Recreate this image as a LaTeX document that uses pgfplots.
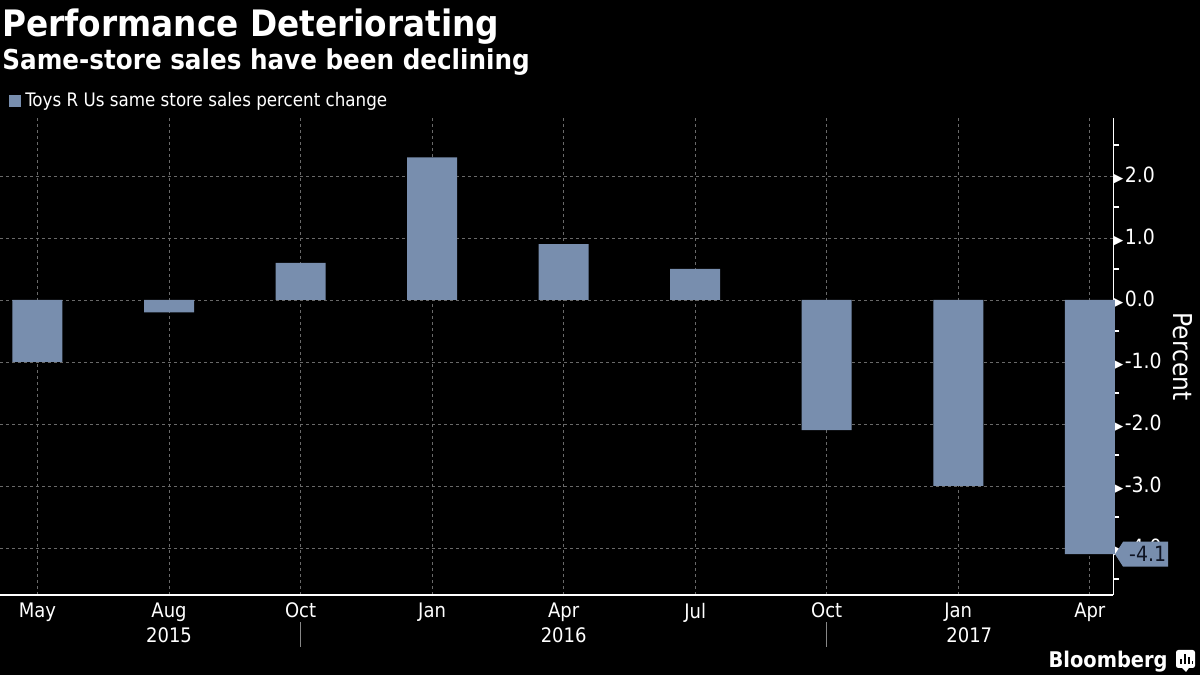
\documentclass[border=0pt]{standalone}
\usepackage{pgfplots}
\pgfplotsset{compat=1.18}
\usepackage{fontspec}
\setmainfont{DejaVu Sans Condensed}
\newfontfamily\dvs{DejaVu Sans}
\definecolor{barc}{RGB}{120,142,174}
\definecolor{gridc}{RGB}{105,105,105}
\definecolor{calltext}{RGB}{15,20,35}
\newcommand{\tri}{{\dvs\fontsize{6.5}{6.5}\selectfont ▶}\hspace{0.8pt}}
\begin{document}
\begin{tikzpicture}
\fill[black] (0,0) rectangle (600pt,337.5pt);
\node[anchor=base west, text=white, inner sep=0pt, font=\bfseries\fontsize{18.2}{21}\selectfont] at (1pt,319pt) {Performance Deteriorating};
\node[anchor=base west, text=white, inner sep=0pt, font=\bfseries\fontsize{13.7}{16}\selectfont] at (1pt,302.5pt) {Same-store sales have been declining};
\begin{axis}[
  at={(0pt,40pt)}, anchor=south west,
  scale only axis, width=556.75pt, height=238.5pt,
  xmin=-0.285, xmax=8.18, ymin=-4.758, ymax=2.935,
  axis x line*=bottom, axis y line*=right,
  axis line style={white, line width=0.8pt},
  clip=false,
  xtick={0,...,8},
  xticklabels={May, Aug\\2015, Oct, Jan, Apr\\2016, Jul, Oct, Jan\\\hspace*{11pt}2017, Apr},
  xticklabel style={align=center, text=white, font=\fontsize{10}{12.5}\selectfont, anchor=north, yshift=-0.5pt},
  ytick={-4,-3,-2,-1,0,1,2},
  yticklabels={\tri-4.0,\tri-3.0,\tri-2.0,\tri-1.0,\tri0.0,\tri1.0,\tri2.0},
  minor ytick={-4.5,-3.5,-2.5,-1.5,-0.5,0.5,1.5,2.5},
  yticklabel style={text=white, font=\fontsize{10.5}{12}\selectfont, anchor=west, inner xsep=0pt, xshift=-0.3pt},
  tick align=outside,
  major tick length=0pt, minor tick length=3pt,
  minor tick style={white, line width=0.6pt},
  grid=major,
  major grid style={gridc, dash pattern=on 1.5pt off 1.5pt, line width=0.4pt},
  ylabel={Percent},
  ylabel style={rotate=180, at={(rel axis cs:1,0.5)}, anchor=center, yshift=34.5pt, text=white, font=\fontsize{13}{15}\selectfont},
  legend style={at={(rel axis cs:0,1)}, anchor=south west, xshift=4.5pt, yshift=2pt, draw=none, fill=none, text=white, font=\fontsize{9.3}{11}\selectfont, inner sep=0pt},
  legend image code/.code={\fill[barc] (0pt,-3pt) rectangle (6pt,3pt);},
]
\addplot[ybar, fill=barc, draw=none, bar width=0.38, bar shift=0pt]
  coordinates {(0,-1.0) (1,-0.2) (2,0.6) (3,2.3) (4,0.9) (5,0.5) (6,-2.1) (7,-3.0) (8,-4.1)};
\addlegendentry{Toys R Us same store sales percent change}
\fill[barc] (axis cs:8.18,-4.1) ++(0.8pt,0pt) -- ++(4pt,6.25pt) -- ++(22.5pt,0pt) -- ++(0pt,-12.5pt) -- ++(-22.5pt,0pt) -- cycle;
\node[anchor=east, text=calltext, inner sep=0pt, font=\fontsize{10.5}{12}\selectfont] at ([xshift=26.5pt]axis cs:8.18,-4.1) {-4.1};
\draw[gridc!80!white, line width=0.5pt] ([yshift=-13.5pt]axis cs:2,-4.758) -- ++(0pt,-12.5pt);
\draw[gridc!80!white, line width=0.5pt] ([yshift=-13.5pt]axis cs:6,-4.758) -- ++(0pt,-12.5pt);
\end{axis}
\node[anchor=base east, text=white, inner sep=0pt, font=\bfseries\fontsize{10.8}{12}\selectfont] at (584pt,4pt) {Bloomberg};
\fill[white, rounded corners=1.2pt] (588pt,3.5pt) rectangle (597.5pt,12.5pt);
\fill[white] (591pt,3.6pt) -- (593pt,1.5pt) -- (594.5pt,3.6pt) -- cycle;
\fill[black] (590pt,5.5pt) rectangle (590.9pt,8pt);
\fill[black] (592pt,5.5pt) rectangle (592.9pt,10.5pt);
\fill[black] (594pt,5.5pt) rectangle (594.9pt,9pt);
\fill[black] (596pt,5.5pt) rectangle (596.6pt,7pt);
\pgfresetboundingbox
\path[use as bounding box] (0,0) rectangle (600pt,337.5pt);
\end{tikzpicture}
\end{document}
